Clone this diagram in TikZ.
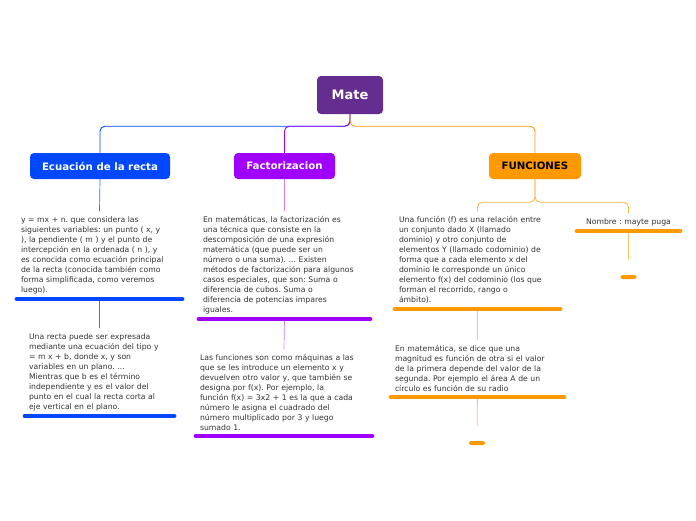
\documentclass[tikz,border=0pt]{standalone}
\usepackage{fontspec}
\setmainfont{DejaVu Sans}
\usetikzlibrary{positioning,calc}
\frenchspacing
\definecolor{moradoMate}{RGB}{102,45,145}
\definecolor{azulRecta}{RGB}{0,72,255}
\definecolor{moradoFact}{RGB}{160,0,255}
\definecolor{naranjaFun}{RGB}{255,153,0}
\definecolor{textoGris}{RGB}{51,51,51}
\tikzset{
  raiz/.style={rectangle, fill=moradoMate, rounded corners=4pt,
               minimum width=66pt, minimum height=38pt, inner sep=0pt,
               text=white, font=\fontsize{13}{15}\selectfont\bfseries},
  tema/.style={rectangle, rounded corners=4pt, minimum height=26pt, inner sep=0pt,
               font=\fontsize{10.2}{12}\selectfont\bfseries},
  nota/.style={anchor=south, align=left, inner xsep=6pt, inner ysep=5pt,
               text=textoGris, font=\fontsize{7.7}{10}\selectfont},
  barra/.style={line width=4.5pt, line cap=round, shorten <=2pt, shorten >=2pt},
  ligacao/.style={line width=0.9pt, rounded corners=5pt},
  fio/.style={line width=0.7pt},
  ponta/.style={rectangle, rounded corners=2pt, fill=naranjaFun,
                minimum width=16pt, minimum height=4pt, inner sep=0pt},
}
\begin{document}
\begin{tikzpicture}[x=1pt, y=-1pt]
  \fill[white] (0,0) rectangle (696,520);
  \useasboundingbox (0,0) rectangle (696,520);

  % raiz e temas
  \node[raiz] (mate) at (350,95) {Mate};
  \node[tema, fill=azulRecta, text=white, minimum width=140pt] (recta) at (100,166) {Ecuación de la recta};
  \node[tema, fill=moradoFact, text=white, minimum width=101pt] (fact) at (284.5,166) {Factorizacion};
  \node[tema, fill=naranjaFun, text=black, minimum width=92pt] (func) at (535,166) {FUNCIONES};

  % notas
  \node[nota, text width=157pt] (rec1) at (99.5,299)
    {y = mx + n. que considera las\\siguientes variables: un punto ( x, y\\), la pendiente ( m ) y el punto de\\intercepción en la ordenada ( n ), y\\es conocida como ecuación principal\\de la recta (conocida también como\\forma simplificada, como veremos\\luego).};
  \node[nota, text width=141pt] (rec2) at (99.5,416)
    {Una recta puede ser expresada\\mediante una ecuación del tipo y\\= m x + b, donde x, y son\\variables en un plano. ...\\Mientras que b es el término\\independiente y es el valor del\\punto en el cual la recta corta al\\eje vertical en el plano.};
  \node[nota, text width=163pt] (fac1) at (284.5,319)
    {En matemáticas, la factorización es\\una técnica que consiste en la\\descomposición de una expresión\\matemática (que puede ser un\\número o una suma). ... Existen\\métodos de factorización para algunos\\casos especiales, que son: Suma o\\diferencia de cubos. Suma o\\diferencia de potencias impares\\iguales.};
  \node[nota, text width=168pt] (fac2) at (284,436)
    {Las funciones son como máquinas a las\\que se les introduce un elemento x y\\devuelven otro valor y, que también se\\designa por f(x). Por ejemplo, la\\función f(x) = 3x2 + 1 es la que a cada\\número le asigna el cuadrado del\\número multiplicado por 3 y luego\\sumado 1.};
  \node[nota, text width=157pt] (fun1) at (477.5,309)
    {Una función (f) es una relación entre\\un conjunto dado X (llamado\\dominio) y otro conjunto de\\elementos Y (llamado codominio) de\\forma que a cada elemento x del\\dominio le corresponde un único\\elemento f(x) del codominio (los que\\forman el recorrido, rango o\\ámbito).};
  \node[nota, text width=165pt] (fun2) at (477.5,397)
    {En matemática, se dice que una\\magnitud es función de otra si el valor\\de la primera depende del valor de la\\segunda. Por ejemplo el área A de un\\círculo es función de su radio};
  \node[nota, text width=95pt, align=center] (nombre) at (628.5,231) {Nombre : mayte puga};

  \node[ponta] (fin1) at (477,443) {};
  \node[ponta] (fin2) at (628.5,277) {};

  % ligacoes
  \draw[ligacao, azulRecta] (mate.south) -- ++(0,12) -| (recta.north);
  \draw[ligacao, moradoFact] (mate.south) -- ++(0,12) -| (fact.north);
  \draw[ligacao, naranjaFun] (mate.south) -- ++(0,12) -| (func.north);

  \draw[fio, azulRecta!80] (recta.south) -- (rec1.north);
  \draw[fio, azulRecta!80] (rec1.south) -- (rec2.north);
  \draw[fio, moradoFact!50] (fact.south) -- (fac1.north);
  \draw[fio, moradoFact!50] (fac1.south) -- (fac2.north);
  \draw[ligacao, naranjaFun!70] (func.south) -- ++(0,23) -| (fun1.north);
  \draw[ligacao, naranjaFun!70] (func.south) -- ++(0,23) -| (nombre.north);
  \draw[fio, naranjaFun!60] (fun1.south) -- (fun2.north);
  \draw[fio, naranjaFun!60, shorten >=15pt] (fun2.south) -- (fin1.north);
  \draw[fio, naranjaFun!60, shorten >=15pt] (nombre.south) -- (fin2.north);

  % barras
  \foreach \n/\c in {rec1/azulRecta, rec2/azulRecta, fac1/moradoFact, fac2/moradoFact,
                     fun1/naranjaFun, fun2/naranjaFun, nombre/naranjaFun}
    \draw[barra, \c] (\n.south west) -- (\n.south east);
\end{tikzpicture}
\end{document}
